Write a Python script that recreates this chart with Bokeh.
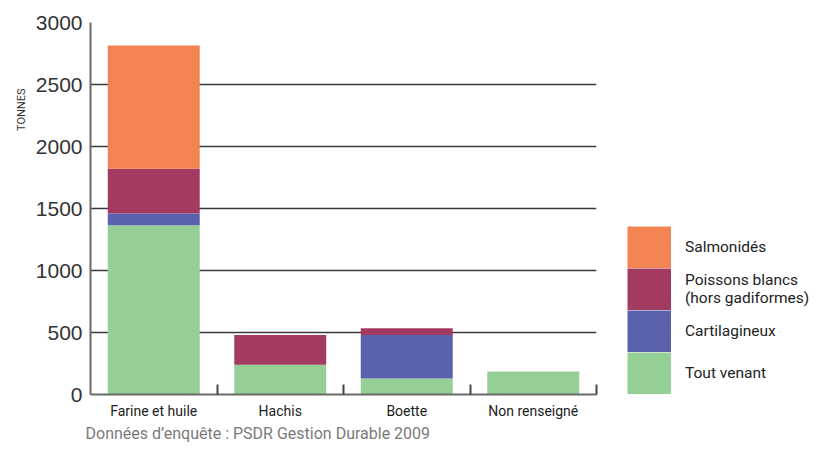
from bokeh.plotting import figure
from bokeh.layouts import row
from bokeh.models import (ColumnDataSource, FixedTicker, Legend, LegendItem, Title, Range1d)
from bokeh.embed import file_html
from bokeh.resources import INLINE

categories = ["Farine et huile", "Hachis", "Boette", "Non renseigné"]
series = ["Tout venant", "Cartilagineux", "Poissons blancs", "Salmonidés"]
legend_labels = ["Tout venant", "Cartilagineux", "Poissons blancs\n(hors gadiformes)", "Salmonidés"]
tout_venant = [1365, 240, 130, 185]
cartilagineux = [95, 0, 350, 0]
poissons_blancs = [360, 240, 55, 0]
salmonides = [995, 0, 0, 0]
colors = ["#95CF96", "#5A62AD", "#A33A62", "#F28353"]
y_ticks = [0, 500, 1000, 1500, 2000, 2500, 3000]

xpos = [i + 0.5 for i in range(len(categories))]
source = ColumnDataSource(dict(x=xpos, **{
    "Tout venant": tout_venant,
    "Cartilagineux": cartilagineux,
    "Poissons blancs": poissons_blancs,
    "Salmonidés": salmonides,
}))

H = 442
W1 = 605
W2 = 211
BL, BR, BT, BB = 90, 9, 22, 46

p = figure(width=W1, height=H, output_backend="svg", toolbar_location=None,
           x_range=Range1d(0, len(categories)), y_range=Range1d(0, 3000),
           min_border_left=BL, min_border_right=BR, min_border_top=BT, min_border_bottom=BB)
p.outline_line_color = None

p.vbar_stack(series, x="x", width=0.727, color=colors, source=source, line_color=None)

# axes
xa = p.xaxis[0]
xa.ticker = FixedTicker(ticks=xpos, minor_ticks=list(range(1, len(categories) + 1)))
xa.major_label_overrides = {x: c for x, c in zip(xpos, categories)}
xa.major_tick_line_color = None
xa.major_tick_out = 0
xa.major_tick_in = 0
xa.minor_tick_in = 10
xa.minor_tick_out = 0
xa.minor_tick_line_color = "#444444"
xa.minor_tick_line_width = 2
xa.axis_line_color = "#6a6a6a"
xa.axis_line_width = 2
xa.major_label_text_font = "Roboto"
xa.major_label_text_font_size = "14px"
xa.major_label_text_color = "#222222"
xa.major_label_standoff = 8

ya = p.yaxis[0]
ya.ticker = FixedTicker(ticks=y_ticks)
ya.axis_line_color = "#6a6a6a"
ya.axis_line_width = 2
ya.major_tick_line_color = None
ya.major_tick_out = 0
ya.major_tick_in = 0
ya.minor_tick_line_color = None
ya.minor_tick_out = 0
ya.major_label_text_font = "Liberation Sans"
ya.major_label_text_font_size = "21px"
ya.major_label_text_color = "#333333"
ya.major_label_standoff = 8

p.xgrid.grid_line_color = None
p.ygrid.grid_line_color = "#3a3a3a"
p.ygrid.grid_line_width = 1.5

# y title
p.add_layout(Title(text="TONNES", align="right", offset=66, text_font="Roboto",
                   text_font_size="11px", text_font_style="normal", text_color="#333333"), "left")
# caption
p.add_layout(Title(text="Données d’enquête : PSDR Gestion Durable 2009", align="left", offset=-5,
                   text_font="Roboto", text_font_size="16px", text_font_style="normal",
                   text_color="#7a7a7a", standoff=0), "below")

# legend figure: dummy thick lines outside the visible range provide full-size swatches
q = figure(width=W2, height=H, output_backend="svg", toolbar_location=None,
           x_range=Range1d(0, 1), y_range=Range1d(0, 1), x_axis_type=None, y_axis_type=None,
           min_border_left=0, min_border_right=0, min_border_top=0, min_border_bottom=0)
q.outline_line_color = None
q.xgrid.visible = False
q.ygrid.visible = False
dummies = [q.line(x=[-5, -4], y=[-5, -5], line_width=42, line_color=c, line_cap="butt") for c in colors]
items = [LegendItem(label=legend_labels[i], renderers=[dummies[i]]) for i in reversed(range(len(series)))]
legend = Legend(items=items, location=(22, 0), orientation="vertical",
                glyph_width=44, glyph_height=42, spacing=0, padding=0, margin=0,
                label_standoff=14, label_text_font="Roboto", label_text_font_size="15.5px",
                label_text_color="#222222", border_line_color=None, background_fill_alpha=0)
q.add_layout(legend, "center")

layout = row(p, q, spacing=0)
open("out.html", "w").write(file_html(layout, INLINE))
